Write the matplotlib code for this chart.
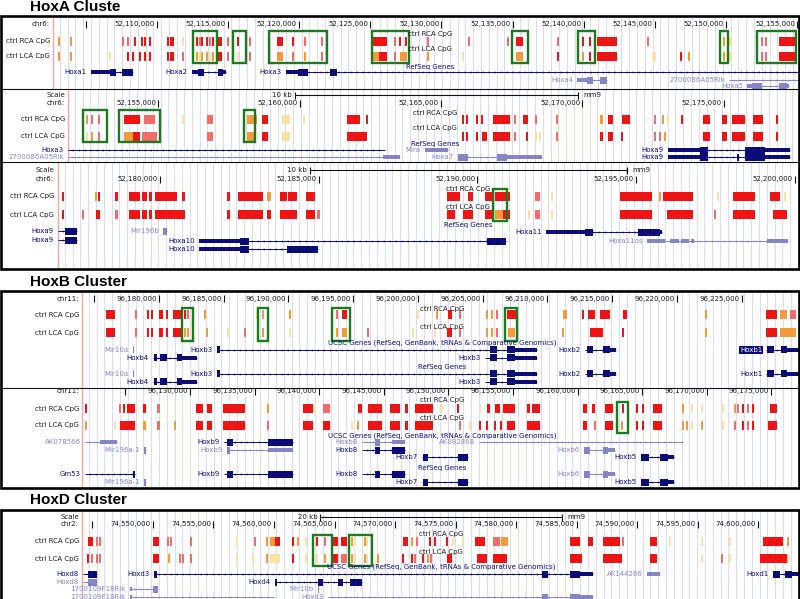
import matplotlib
matplotlib.use('Agg')
import matplotlib.pyplot as plt
from matplotlib.patches import Rectangle
import numpy as np

# ======================= DATA (genomic positions in kb) =======================
# ---- HoxA, row 1 (chr6) ----
A1_XLIM = (52102.63, 52155.20)
A1_TICKS = [52105, 52110, 52115, 52120, 52125, 52130, 52135, 52140, 52145, 52150, 52155]
A1_TICK_LABELS = ['', '52,110,000', '52,115,000', '52,120,000', '52,125,000', '52,130,000',
                  '52,135,000', '52,140,000', '52,145,000', '52,150,000', '52,155,000']
A1_RCA = [(52103.12, 'o'), (52103.96, 'o'), (52107.61, 'r'), (52107.96, 'r'), (52108.46, 'R'),
          (52108.95, 'R'), (52109.16, 'R'), (52109.51, 'R'), (52110.77, 'R'), (52110.98, 'R'),
          (52111.12, 'R'), (52111.83, 'y'), (52112.81, 'R'), (52113.02, 'r'), (52113.16, 'R'),
          (52113.51, 'R'), (52113.72, 'r'), (52113.93, 'R'), (52114.21, 52114.56, 'R'),
          (52114.99, 'r'), (52115.69, 'R'), (52116.53, 'r'), (52118.43, 52118.85, 'R'),
          (52119.55, 'R'), (52120.39, 'r'), (52121.59, 'r'), (52125.17, 52126.15, 'R'),
          (52126.71, 'r'), (52127.06, 'R'), (52127.49, 'R'), (52129.03, 'r'), (52131.91, 'r'),
          (52134.65, 'r'), (52135.21, 52135.70, 'R'), (52138.16, 'r'), (52139.92, 'R'),
          (52140.41, 'R'), (52140.90, 52142.37, 'R'), (52144.55, 'r'), (52149.89, 'o'),
          (52150.10, 52150.45, 'y'), (52152.56, 'r'), (52152.84, 'r'), (52153.75, 52154.94, 'R')]
A1_LCA = [(52103.12, 'o'), (52103.96, 'o'), (52106.70, 'y'), (52107.96, 'R'), (52108.31, 'R'),
          (52108.81, 'R'), (52109.16, 'R'), (52109.51, 'R'), (52110.77, 'R'), (52110.98, 'R'),
          (52111.12, 'R'), (52111.83, 'r'), (52112.81, 'o'), (52113.02, 'y'), (52113.16, 'o'),
          (52113.51, 'o'), (52113.72, 'y'), (52113.93, 'o'), (52114.21, 52114.56, 'R'),
          (52114.99, 'r'), (52115.69, 'y'), (52116.53, 'r'), (52118.43, 52118.85, 'o'),
          (52119.55, 'r'), (52120.39, 'o'), (52121.59, 'r'), (52125.17, 52125.60, 'o'),
          (52125.60, 52126.15, 'R'), (52126.71, 'r'), (52127.06, 52127.56, 'o'), (52129.03, 'o'),
          (52131.49, 'y'), (52135.21, 52135.70, 'o'), (52138.16, 'R'), (52139.92, 'o'),
          (52140.41, 'R'), (52140.90, 52142.37, 'R'), (52144.83, 52145.11, 'y'), (52146.87, 'R'),
          (52147.43, 'o'), (52149.89, 'o'), (52150.10, 52150.45, 'y'), (52152.56, 'r'),
          (52152.84, 'r'), (52153.75, 52154.94, 'R')]
A1_BOXES = [(52112.53, 52114.21), (52115.34, 52116.25), (52117.87, 52121.94), (52125.10, 52127.70),
            (52134.93, 52136.05), (52139.63, 52140.76), (52149.61, 52150.17), (52152.21, 52154.94)]
A1_GENES = [
    ('Hoxa1', 72, 52105.37, 52108.31, 'd', [(52105.37, 52106.70, 'h'), (52106.70, 52107.12, 'f'), (52107.54, 52108.31, 'f')]),
    ('Hoxa2', 72, 52112.46, 52114.85, 'd', [(52112.46, 52112.88, 'h'), (52112.88, 52113.30, 'f'), (52114.28, 52114.63, 'f'), (52114.63, 52114.85, 'h')]),
    ('Hoxa3', 72, 52119.06, 52155.20, 'd', [(52119.06, 52119.90, 'h'), (52119.90, 52120.60, 'f'), (52122.15, 52122.64, 'f')]),
    ('Hoxa4', 80, 52139.56, 52141.67, 'l', [(52139.56, 52140.20, 'h'), (52140.20, 52140.62, 'f'), (52141.11, 52141.67, 'f')]),
    ('2700086A05Rik', 80, 52150.24, 52155.20, 'l', []),
    ('Hoxa5', 86, 52151.50, 52154.45, 'l', [(52151.50, 52151.85, 'h'), (52151.85, 52152.56, 'f'), (52153.75, 52154.31, 'f'), (52154.31, 52154.45, 'h')]),
]

# ---- HoxA, row 2 ----
A2_XLIM = (52151.78, 52177.69)
A2_TICKS = [52155, 52160, 52165, 52170, 52175]
A2_TICK_LABELS = ['52,155,000', '52,160,000', '52,165,000', '52,170,000', '52,175,000']
A2_SCALE = (52159.84, 10)
A2_RCA = [(52152.49, 'o'), (52152.66, 'r'), (52152.92, 'r'), (52153.80, 52154.36, 'R'),
          (52154.50, 52154.89, 'r'), (52155.88, 'y'), (52156.73, 52156.94, 'r'),
          (52158.14, 52158.50, 'o'), (52158.67, 52158.89, 'R'), (52159.38, 52159.66, 'y'),
          (52160.16, 'y'), (52161.68, 52162.14, 'R'), (52162.38, 'R'), (52165.78, 'R'),
          (52165.92, 'R'), (52166.27, 'R'), (52166.45, 'R'), (52166.84, 52167.44, 'R'),
          (52167.61, 'r'), (52167.90, 52168.07, 'R'), (52168.36, 'r'), (52169.10, 'r'),
          (52170.62, 52170.72, 'o'), (52170.90, 52171.08, 'R'), (52171.40, 52171.68, 'R'),
          (52172.56, 'r'), (52172.84, 'o'), (52173.02, 'y'), (52173.52, 'R'),
          (52174.26, 52174.51, 'R'), (52174.93, 52175.11, 'R'), (52175.28, 52175.74, 'R'),
          (52176.02, 52176.38, 'R'), (52176.87, 'R')]
A2_LCA = [(52152.49, 'y'), (52152.66, 'o'), (52152.92, 'r'), (52153.80, 52154.10, 'o'),
          (52154.10, 52154.36, 'R'), (52154.43, 52154.95, 'r'), (52156.73, 52156.94, 'r'),
          (52158.14, 52158.40, 'o'), (52158.67, 52158.89, 'R'), (52159.38, 52159.66, 'y'),
          (52161.68, 52162.38, 'R'), (52165.78, 'R'), (52165.92, 'R'), (52166.27, 'R'),
          (52166.45, 52166.62, 'R'), (52166.84, 52167.44, 'R'), (52167.61, 'r'), (52168.04, 'R'),
          (52168.36, 'y'), (52168.50, 'y'), (52169.10, 'r'), (52170.62, 52170.72, 'R'),
          (52170.90, 52171.08, 'R'), (52171.40, 'R'), (52172.56, 'r'), (52172.74, 'r'),
          (52172.92, 'o'), (52174.26, 52174.51, 'R'), (52174.93, 52175.11, 'R'),
          (52175.28, 52175.74, 'R'), (52176.02, 52176.38, 'R'), (52176.87, 'R')]
A2_BOXES = [(52152.35, 52153.20), (52153.62, 52155.07), (52158.04, 52158.43)]
A2_GENES = [
    ('Hoxa3', 150, 52151.82, 52163.02, 'd', []),
    ('2700086A05Rik', 157, 52151.82, 52163.55, 'l', [(52162.95, 52163.55, 'h')]),
    ('Mira', 150, 52164.43, 52165.25, 'l', [(52164.43, 52165.25, 'h')]),
    ('Hoxa7', 157, 52165.60, 52168.57, 'l', [(52165.60, 52165.95, 'f'), (52166.98, 52167.33, 'f'), (52167.33, 52168.57, 'h')]),
    ('Hoxa9', 150, 52173.02, 52177.33, 'd', [(52173.02, 52174.15, 'h'), (52174.15, 52174.43, 'f'), (52175.74, 52176.45, 'f'), (52176.45, 52177.33, 'h')]),
    ('Hoxa9', 157, 52173.02, 52177.33, 'd', [(52173.02, 52174.15, 'h'), (52174.15, 52174.43, 'f'), (52175.45, 52175.52, 'f'), (52175.74, 52176.45, 'f'), (52176.45, 52177.33, 'h')]),
]

# ---- HoxA, row 3 ----
A3_XLIM = (52176.76, 52200.16)
A3_TICKS = [52180, 52185, 52190, 52195, 52200]
A3_TICK_LABELS = ['52,180,000', '52,185,000', '52,190,000', '52,195,000', '52,200,000']
A3_SCALE = (52184.72, 10)
A3_RCA = [(52176.91, 52176.98, 'R'), (52177.98, 'o'), (52178.08, 'R'), (52178.58, 52178.68, 'R'),
          (52179.02, 52179.37, 'R'), (52179.43, 52179.59, 'R'), (52179.65, 52179.75, 'R'),
          (52179.84, 52180.54, 'R'), (52180.69, 52180.79, 'R'), (52182.11, 52182.20, 'R'),
          (52182.46, 52183.24, 'R'), (52183.37, 52183.50, 'o'), (52183.78, 52184.00, 'R'),
          (52184.03, 52184.31, 'R'), (52184.60, 52184.88, 'R'), (52189.04, 52189.45, 'R'),
          (52189.70, 52189.86, 'R'), (52190.24, 52190.49, 'R'), (52190.55, 52191.02, 'R'),
          (52191.81, 52191.97, 'r'), (52192.35, 'y'), (52194.49, 52195.50, 'R'), (52195.75, 'o'),
          (52195.85, 52196.79, 'R'), (52197.57, 'y'), (52198.05, 52198.74, 'R'),
          (52199.21, 52199.53, 'R'), (52199.69, 'y')]
A3_LCA = [(52176.91, 52176.98, 'R'), (52177.54, 52177.61, 'r'), (52177.98, 52178.11, 'R'),
          (52178.58, 52178.68, 'r'), (52179.02, 52179.37, 'R'), (52179.43, 52179.59, 'R'),
          (52179.65, 52179.75, 'R'), (52179.84, 52180.79, 'R'), (52182.11, 52182.20, 'R'),
          (52182.46, 52183.24, 'R'), (52183.37, 52183.50, 'R'), (52183.78, 52184.31, 'R'),
          (52184.60, 52184.88, 'R'), (52184.95, 52185.04, 'r'), (52189.04, 52189.30, 'R'),
          (52189.55, 52189.86, 'R'), (52190.24, 52190.49, 'R'), (52190.55, 52190.80, 'o'),
          (52190.80, 52191.02, 'R'), (52191.62, 'y'), (52191.81, 52191.97, 'r'), (52192.35, 'y'),
          (52194.49, 52195.50, 'R'), (52195.97, 52196.79, 'R'), (52197.48, 'r'),
          (52198.05, 52198.74, 'R'), (52199.31, 52199.75, 'R')]
A3_BOXES = [(52190.49, 52190.93)]
A3_GENES = [
    ('Hoxa9', 231, 52176.79, 52177.39, 'd', [(52177.01, 52177.39, 'f')]),
    ('Hoxa9', 240, 52176.79, 52177.39, 'd', [(52177.01, 52177.39, 'f')]),
    ('Mir196b', 231, 52180.10, 52180.22, 'l', [(52180.10, 52180.22, 'f')]),
    ('Hoxa10', 241, 52181.23, 52190.90, 'd', [(52181.23, 52182.52, 'h'), (52182.52, 52182.80, 'f'), (52190.30, 52190.90, 'f')]),
    ('Hoxa10', 249, 52181.23, 52184.98, 'd', [(52181.23, 52182.52, 'h'), (52182.52, 52182.80, 'f'), (52184.00, 52184.98, 'f')]),
    ('Hoxa11', 232, 52192.16, 52195.81, 'd', [(52192.16, 52193.39, 'h'), (52193.39, 52193.64, 'f'), (52195.06, 52195.75, 'f'), (52195.75, 52195.81, 'h')]),
    ('Hoxa11os', 241, 52195.34, 52199.78, 'l', [(52195.34, 52195.91, 'h'), (52196.06, 52196.35, 'h'), (52196.41, 52196.66, 'h'), (52196.73, 52196.82, 'h'), (52199.12, 52199.78, 'h')]),
]

# ---- HoxB, row 1 (chr11) ----
B1_XLIM = (96174.00, 96229.50)
B1_TICKS = [96175, 96180, 96185, 96190, 96195, 96200, 96205, 96210, 96215, 96220, 96225]
B1_TICK_LABELS = ['', '96,180,000', '96,185,000', '96,190,000', '96,195,000', '96,200,000',
                  '96,205,000', '96,210,000', '96,215,000', '96,220,000', '96,225,000']
B1_RCA = [(96175.91, 96176.60, 'R'), (96178.23, 'r'), (96179.15, 'R'), (96179.46, 'R'),
          (96180.00, 96180.31, 'R'), (96180.62, 'R'), (96181.08, 96181.77, 'R'), (96182.01, 'R'),
          (96182.24, 'r'), (96183.55, 'o'), (96187.56, 'y'), (96188.02, 'o'), (96190.11, 'o'),
          (96193.73, 'r'), (96194.12, 96194.51, 'R'), (96199.98, 'y'), (96201.45, 'o'),
          (96202.30, 96202.61, 'R'), (96203.23, 'r'), (96205.31, 'o'), (96205.70, 'o'),
          (96206.08, 'r'), (96206.85, 96207.62, 'R'), (96211.17, 96211.48, 'o'), (96212.72, 'R'),
          (96213.10, 96213.64, 'R'), (96214.03, 96214.80, 'R'), (96215.80, 96216.11, 'R'),
          (96222.28, 'o'), (96226.91, 96227.69, 'R'), (96227.92, 96228.46, 'o'),
          (96228.69, 96229.20, 'r')]
B1_LCA = [(96175.91, 96176.60, 'R'), (96178.23, 'r'), (96179.15, 'R'), (96179.46, 'R'),
          (96180.00, 96180.31, 'R'), (96180.62, 'R'), (96181.08, 96181.77, 'R'), (96182.01, 'o'),
          (96182.24, 'o'), (96183.70, 'o'), (96185.32, 'y'), (96186.64, 'r'), (96188.02, 'o'),
          (96190.11, 'y'), (96193.73, 'o'), (96194.12, 96194.51, 'o'), (96196.13, 'r'),
          (96199.60, 'y'), (96201.30, 'y'), (96202.22, 96202.61, 'R'), (96203.23, 'r'),
          (96205.31, 'o'), (96205.70, 'o'), (96206.08, 'r'), (96206.93, 96207.47, 'o'),
          (96211.17, 'o'), (96213.26, 96214.26, 'R'), (96215.80, 'R'), (96222.28, 'o'),
          (96226.91, 96227.69, 'R'), (96227.92, 96229.20, 'o')]
B1_BOXES = [(96181.77, 96182.62), (96187.64, 96188.41), (96193.35, 96194.74), (96206.70, 96207.62)]
B1_GENES = [
    ('Mir10a', 350, 96178.00, 96178.10, 'l', [(96178.00, 96178.10, 'f')]),
    ('Hoxb3', 350, 96184.48, 96209.17, 'd', [(96184.48, 96184.70, 'f'), (96205.54, 96206.08, 'f'), (96206.85, 96207.47, 'f'), (96207.47, 96209.17, 'h')]),
    ('Hoxb2', 350, 96212.87, 96215.26, 'd', [(96213.02, 96213.49, 'f'), (96214.26, 96214.80, 'f'), (96214.80, 96215.26, 'h')]),
    ('Hoxb1*', 350, 96226.91, 96229.50, 'd', [(96226.99, 96227.53, 'f'), (96228.06, 96228.46, 'f'), (96228.46, 96229.50, 'h')]),
    ('Hoxb4', 358, 96179.54, 96182.93, 'd', [(96179.61, 96179.85, 'f'), (96180.08, 96180.62, 'f'), (96181.39, 96181.77, 'f'), (96181.77, 96182.93, 'h')]),
    ('Hoxb3', 358, 96205.15, 96209.17, 'd', [(96205.54, 96206.08, 'f'), (96206.85, 96207.47, 'f'), (96207.47, 96209.17, 'h')]),
    ('Mir10a', 374, 96178.00, 96178.10, 'l', [(96178.00, 96178.10, 'f')]),
    ('Hoxb3', 374, 96184.48, 96209.17, 'd', [(96184.48, 96184.70, 'f'), (96205.54, 96206.08, 'f'), (96206.85, 96207.47, 'f'), (96207.47, 96209.17, 'h')]),
    ('Hoxb2', 374, 96212.87, 96215.26, 'd', [(96213.02, 96213.49, 'f'), (96214.26, 96214.80, 'f'), (96214.80, 96215.26, 'h')]),
    ('Hoxb1', 374, 96226.91, 96229.50, 'd', [(96226.99, 96227.53, 'f'), (96228.06, 96228.46, 'f'), (96228.46, 96229.50, 'h')]),
    ('Hoxb4', 382, 96179.54, 96182.93, 'd', [(96179.61, 96179.85, 'f'), (96180.08, 96180.62, 'f'), (96181.39, 96181.77, 'f'), (96181.77, 96182.93, 'h')]),
    ('Hoxb3', 382, 96205.15, 96209.17, 'd', [(96205.54, 96206.08, 'f'), (96206.85, 96207.47, 'f'), (96207.47, 96209.17, 'h')]),
]

# ---- HoxB, row 2 ----
B2_XLIM = (96121.56, 96177.21)
B2_TICKS = [96125, 96130, 96135, 96140, 96145, 96150, 96155, 96160, 96165, 96170, 96175]
B2_TICK_LABELS = ['', '96,130,000', '96,135,000', '96,140,000', '96,145,000', '96,150,000',
                  '96,155,000', '96,160,000', '96,165,000', '96,170,000', '96,175,000']
B2_RCA = [(96121.87, 96122.03, 'R'), (96124.58, 'r'), (96124.85, 'R'), (96125.12, 96125.74, 'R'),
          (96126.36, 96126.59, 'R'), (96127.45, 96127.68, 'r'), (96130.46, 96131.01, 'R'),
          (96131.32, 96131.70, 'R'), (96132.55, 96134.26, 'R'), (96136.04, 'o'),
          (96138.75, 96139.52, 'R'), (96139.67, 'y'), (96140.29, 96140.84, 'r'),
          (96143.00, 96143.31, 'R'), (96143.78, 96144.86, 'R'), (96145.48, 96146.25, 'R'),
          (96146.64, 96146.87, 'R'), (96147.41, 96148.81, 'R'), (96149.50, 'y'), (96150.74, 'R'),
          (96152.45, 'y'), (96152.99, 96153.22, 'R'), (96153.61, 96153.99, 'R'),
          (96154.23, 96155.15, 'R'), (96156.08, 96156.32, 'R'), (96156.47, 96157.09, 'R'),
          (96160.42, 96160.73, 'R'), (96161.11, 96161.35, 'R'), (96162.12, 96162.74, 'R'),
          (96163.51, 'R'), (96164.60, 'R'), (96165.06, 'R'), (96165.84, 96166.53, 'R'),
          (96168.16, 'o'), (96168.85, 'y'), (96169.63, 'y'), (96171.25, 'y'), (96172.18, 'o'),
          (96172.41, 'r'), (96172.80, 'R'), (96173.20, 'r'), (96173.58, 'R'),
          (96174.89, 96175.43, 'R')]
B2_LCA = [(96121.87, 96122.03, 'o'), (96124.20, 'y'), (96124.58, 96125.74, 'R'),
          (96126.36, 96126.59, 'o'), (96127.45, 96127.68, 'r'), (96128.84, 'o'),
          (96130.46, 96131.01, 'R'), (96131.32, 96131.70, 'R'), (96132.55, 96134.26, 'R'),
          (96136.04, 'r'), (96138.75, 96139.52, 'R'), (96140.29, 96140.84, 'R'), (96142.54, 'y'),
          (96143.00, 'o'), (96143.78, 96144.86, 'R'), (96145.48, 96146.25, 'R'),
          (96146.64, 96146.87, 'R'), (96147.41, 96148.81, 'R'), (96150.90, 'r'), (96151.67, 'y'),
          (96152.45, 'R'), (96153.00, 'R'), (96153.61, 'R'), (96154.10, 'R'),
          (96154.50, 96155.15, 'R'), (96156.08, 96157.09, 'R'), (96160.42, 96160.73, 'R'),
          (96161.35, 'r'), (96162.12, 96162.74, 'R'), (96163.44, 'o'), (96164.60, 'R'),
          (96165.06, 'R'), (96165.84, 96166.53, 'R'), (96168.16, 'o'), (96168.45, 'o'),
          (96168.85, 'y'), (96169.63, 'o'), (96171.25, 'y'), (96172.18, 'r'), (96172.80, 'R'),
          (96173.20, 'r'), (96173.58, 'R'), (96174.70, 96175.43, 'R')]
B2_BOXES = [(96163.05, 96163.90)]
B2_GENES = [
    ('AK078566', 442, 96121.87, 96124.35, 'l', [(96123.03, 96124.35, 'h')]),
    ('Mir196a-1', 450, 96126.45, 96126.60, 'l', [(96126.45, 96126.60, 'f')]),
    ('Hoxb9', 442, 96132.63, 96137.97, 'd', [(96132.86, 96133.33, 'f'), (96136.04, 96137.97, 'f')]),
    ('Hoxb9', 450, 96132.86, 96137.97, 'l', [(96132.86, 96133.10, 'f'), (96136.04, 96137.97, 'h')]),
    ('Hoxb8', 442, 96143.31, 96146.64, 'l', [(96144.32, 96144.71, 'f'), (96145.63, 96146.64, 'h')]),
    ('Hoxb8', 450, 96143.31, 96146.64, 'd', [(96144.32, 96144.71, 'f'), (96145.63, 96146.64, 'f')]),
    ('AK082868', 442, 96152.37, 96168.16, 'l', []),
    ('Hoxb7', 457, 96147.96, 96151.52, 'd', [(96148.03, 96148.42, 'f'), (96150.74, 96151.52, 'f')]),
    ('Hoxb6', 450, 96160.50, 96162.89, 'l', [(96160.50, 96160.96, 'f'), (96161.97, 96162.35, 'f'), (96162.35, 96162.89, 'h')]),
    ('Hoxb5', 457, 96164.91, 96167.46, 'd', [(96164.91, 96165.53, 'f'), (96166.38, 96167.00, 'f'), (96167.00, 96167.46, 'h')]),
    ('Gm53', 474, 96121.87, 96125.74, 'd', [(96125.55, 96125.74, 'f')]),
    ('Mir196a-1', 482, 96126.45, 96126.60, 'l', [(96126.45, 96126.60, 'f')]),
    ('Hoxb9', 474, 96132.63, 96137.97, 'd', [(96132.86, 96133.33, 'f'), (96136.04, 96137.97, 'f')]),
    ('Hoxb8', 474, 96143.31, 96146.64, 'd', [(96144.32, 96144.71, 'f'), (96145.63, 96146.64, 'f')]),
    ('Hoxb7', 482, 96147.96, 96151.52, 'd', [(96148.03, 96148.42, 'f'), (96150.74, 96151.52, 'f')]),
    ('Hoxb6', 474, 96160.50, 96162.89, 'l', [(96160.50, 96160.96, 'f'), (96161.97, 96162.35, 'f'), (96162.35, 96162.89, 'h')]),
    ('Hoxb5', 482, 96164.91, 96167.46, 'd', [(96164.91, 96165.53, 'f'), (96166.38, 96167.00, 'f'), (96167.00, 96167.46, 'h')]),
]

# ---- HoxD (chr2) ----
D_XLIM = (74544.05, 74603.47)
D_TICKS = [74545, 74550, 74555, 74560, 74565, 74570, 74575, 74580, 74585, 74590, 74595, 74600]
D_TICK_LABELS = ['', '74,550,000', '74,555,000', '74,560,000', '74,565,000', '74,570,000',
                 '74,575,000', '74,580,000', '74,585,000', '74,590,000', '74,595,000', '74,600,000']
D_SCALE = (74563.80, 20)
D_RCA = [(74544.63, 74545.04, 'R'), (74545.37, 'r'), (74545.62, 'r'), (74550.00, 74550.50, 'R'),
         (74551.24, 'r'), (74551.49, 'r'), (74553.14, 'r'), (74556.94, 'y'), (74558.43, 'r'),
         (74559.42, 'o'), (74559.67, 74560.10, 'o'), (74560.10, 74560.50, 'R'), (74561.57, 'R'),
         (74561.98, 'o'), (74562.64, 'y'), (74563.55, 'R'), (74564.21, 'r'),
         (74564.79, 74565.29, 'R'), (74565.54, 74566.03, 'R'), (74566.45, 'o'), (74566.69, 'y'),
         (74567.52, 'o'), (74567.69, 'y'), (74570.66, 74571.07, 'R'), (74571.40, 'o'),
         (74571.82, 'r'), (74572.89, 'R'), (74573.31, 'R'), (74574.30, 'R'), (74574.79, 'y'),
         (74575.62, 'y'), (74576.61, 74577.44, 'R'), (74578.10, 74578.70, 'r'),
         (74578.80, 74579.34, 'o'), (74584.46, 74585.29, 'R'), (74585.95, 74586.36, 'R'),
         (74587.19, 74588.60, 'R'), (74588.84, 'r'), (74591.07, 74591.65, 'R'), (74592.73, 'y'),
         (74595.37, 'y'), (74597.69, 'y'), (74600.41, 74602.07, 'R'), (74602.48, 'o')]
D_LCA = [(74544.63, 'R'), (74544.95, 'r'), (74545.37, 'r'), (74545.62, 'r'), (74550.00, 74550.50, 'R'),
         (74551.32, 'o'), (74552.23, 'r'), (74552.50, 'r'), (74553.14, 'r'), (74556.94, 'y'),
         (74558.26, 'y'), (74559.42, 'o'), (74559.67, 74560.50, 'y'), (74561.57, 'R'),
         (74562.64, 'y'), (74563.55, 'y'), (74564.21, 'o'), (74564.79, 74565.29, 'R'),
         (74565.54, 74566.03, 'r'), (74566.45, 'o'), (74566.69, 'y'), (74567.52, 'o'),
         (74567.69, 'y'), (74568.60, 'o'), (74570.66, 'R'), (74571.40, 'R'), (74571.65, 'r'),
         (74572.31, 'R'), (74572.70, 'o'), (74573.00, 'r'), (74574.30, 74574.70, 'R'),
         (74576.78, 74577.60, 'R'), (74578.10, 74579.26, 'R'), (74584.46, 74585.45, 'R'),
         (74587.19, 74588.76, 'R'), (74591.07, 74591.65, 'R'), (74595.37, 'y'), (74597.02, 'r'),
         (74597.69, 'y'), (74600.17, 74602.40, 'R'), (74602.48, 'y')]
D_BOXES = [(74563.22, 74564.79), (74566.20, 74568.10)]
D_GENES = [
    ('Hoxd8', 574, 74544.21, 74545.37, 'd', [(74544.63, 74545.37, 'f')]),
    ('Hoxd8', 582, 74544.21, 74545.37, 'l', [(74544.63, 74545.37, 'f')]),
    ('1700109F18Rik', 589, 74548.10, 74550.41, 'l', [(74548.10, 74548.30, 'h'), (74550.00, 74550.41, 'f')]),
    ('1700109F18Rik', 597, 74548.10, 74560.00, 'l', [(74548.10, 74548.30, 'h')]),
    ('Hoxd3', 574, 74550.08, 74586.36, 'd', [(74550.08, 74550.33, 'f'), (74582.15, 74582.64, 'f'), (74584.46, 74585.29, 'f'), (74585.29, 74586.36, 'h')]),
    ('Hoxd4', 582, 74560.08, 74567.27, 'd', [(74560.08, 74560.25, 'f'), (74563.64, 74564.05, 'f'), (74565.29, 74565.70, 'f'), (74566.28, 74567.27, 'f')]),
    ('Mir10b', 589, 74563.60, 74563.75, 'l', [(74563.60, 74563.75, 'f')]),
    ('Hoxd3', 597, 74564.46, 74586.36, 'l', [(74582.15, 74582.64, 'f'), (74584.46, 74585.29, 'f'), (74585.29, 74586.36, 'h')]),
    ('AK144266', 574, 74590.83, 74591.90, 'l', [(74590.83, 74591.90, 'h')]),
    ('Hoxd1', 574, 74601.24, 74603.50, 'd', [(74601.24, 74601.82, 'f'), (74602.23, 74602.81, 'f'), (74602.81, 74603.50, 'h')]),
]

PANEL_TITLES = ['HoxA Cluste', 'HoxB Cluster', 'HoxD Cluster']
UCSC_LABEL = 'UCSC Genes (RefSeq, GenBank, tRNAs & Comparative Genomics)'

# ======================= STYLE / LAYOUT (pixels) =======================
W, H = 800, 599
FONT = 'DejaVu Sans'
FS = 5.0
MARK_H = 9
MARK_COL = {'R': '#ee1414', 'r': '#f36b6b', 'o': '#f39a3a', 'y': '#f8e3a2'}
DARK, LIGHT = '#0c0c78', '#8585c4'
GREEN = '#1b7a1b'
GUIDE = '#dcdcf0'
PINK = '#f2a7a7'

ROWS = [
    dict(left=52, top=17, bottom=89, xlim=A1_XLIM, chrom='chr6:', ticks=A1_TICKS, tlabels=A1_TICK_LABELS,
         ruler=24, rca=41, lca=56, labx=50, scale=None, scale_y=None, rca_lab=34, lca_lab=49,
         cx=430, center=[('RefSeq Genes', 67)], boxy=(31, 63),
         RCA=A1_RCA, LCA=A1_LCA, boxes=A1_BOXES, genes=A1_GENES, sep=True),
    dict(left=67, top=89, bottom=162, xlim=A2_XLIM, chrom='chr6:', ticks=A2_TICKS, tlabels=A2_TICK_LABELS,
         ruler=103, rca=119.5, lca=136, labx=65, scale=A2_SCALE, scale_y=95, rca_lab=113, lca_lab=128,
         cx=435, center=[('RefSeq Genes', 144)], boxy=(110, 142),
         RCA=A2_RCA, LCA=A2_LCA, boxes=A2_BOXES, genes=A2_GENES, sep=True),
    dict(left=57, top=162, bottom=268, xlim=A3_XLIM, chrom='chr6:', ticks=A3_TICKS, tlabels=A3_TICK_LABELS,
         ruler=179, rca=196, lca=214.5, labx=54, scale=A3_SCALE, scale_y=170, rca_lab=189, lca_lab=207,
         cx=468, center=[('RefSeq Genes', 225)], boxy=(189, 221),
         RCA=A3_RCA, LCA=A3_LCA, boxes=A3_BOXES, genes=A3_GENES, sep=False),
    dict(left=81, top=292, bottom=388, xlim=B1_XLIM, chrom='chr11:', ticks=B1_TICKS, tlabels=B1_TICK_LABELS,
         ruler=299, rca=315, lca=333, labx=79, scale=None, scale_y=None, rca_lab=309, lca_lab=327,
         cx=442, center=[(UCSC_LABEL, 343), ('RefSeq Genes', 367)], boxy=(308, 341),
         RCA=B1_RCA, LCA=B1_LCA, boxes=B1_BOXES, genes=B1_GENES, sep=True),
    dict(left=81, top=388, bottom=487, xlim=B2_XLIM, chrom='chr11:', ticks=B2_TICKS, tlabels=B2_TICK_LABELS,
         ruler=391, rca=408.5, lca=425.5, labx=79, scale=None, scale_y=None, rca_lab=400, lca_lab=418,
         cx=442, center=[(UCSC_LABEL, 436), ('RefSeq Genes', 468)], boxy=(402, 433),
         RCA=B2_RCA, LCA=B2_LCA, boxes=B2_BOXES, genes=B2_GENES, sep=False),
    dict(left=81, top=511, bottom=599, xlim=D_XLIM, chrom='chr2:', ticks=D_TICKS, tlabels=D_TICK_LABELS,
         ruler=524, rca=541.5, lca=558.5, labx=79, scale=D_SCALE, scale_y=517, rca_lab=534, lca_lab=552,
         cx=441, center=[(UCSC_LABEL, 567)], boxy=(535, 566),
         RCA=D_RCA, LCA=D_LCA, boxes=D_BOXES, genes=D_GENES, sep=False),
]
FRAMES = [(16, 269), (291, 488), (509.5, 640)]
TITLE_Y = [7, 282, 500]

fig = plt.figure(figsize=(W / 100, H / 100), dpi=100)
fig.patch.set_facecolor('white')


def ftext(x, y, s, ha='right', color='#1a1a1a', size=FS, **kw):
    fig.text(x / W, 1 - y / H, s, ha=ha, va='center', fontsize=size, color=color,
             family=FONT, **kw)


def draw_marks(ax, marks, yc, mw):
    for m in marks:
        if len(m) == 2:
            s, c = m
            x0, w = s - mw / 2, mw
        else:
            s, e, c = m
            x0, w = s, max(e - s, mw)
        ax.add_patch(Rectangle((x0, yc - MARK_H / 2), w, MARK_H, facecolor=MARK_COL[c],
                               edgecolor='none', lw=0))


def draw_gene(ax, g, ppk):
    name, y, s, e, ck, exons = g
    col = DARK if ck == 'd' else LIGHT
    ax.plot([s, e], [y, y], color=col, lw=0.7, solid_capstyle='butt', clip_on=True)
    span_px = (e - s) * ppk
    if span_px > 12:
        xs = s + np.arange(4, span_px - 2, 6) / ppk
        ax.plot(xs, np.full(len(xs), y), ls='none', marker='<', ms=1.6, mew=0,
                color=col)
    for a, b, t in exons:
        h = 7 if t == 'f' else 4
        ax.add_patch(Rectangle((a, y - h / 2), max(b - a, 1.5 / ppk), h, facecolor=col,
                               edgecolor='none', lw=0))
    hl = name.endswith('*')
    label = name.rstrip('*')
    kw = dict(xytext=(-3, 0), textcoords='offset points', ha='right', va='center',
              fontsize=FS, family=FONT, annotation_clip=False)
    if hl:
        ax.annotate(label, (s, y), color='white',
                    bbox=dict(facecolor=DARK, edgecolor='none', pad=0.6), **kw)
    else:
        ax.annotate(label, (s, y), color=col, **kw)


for row in ROWS:
    left, top, bottom = row['left'], row['top'], row['bottom']
    ax = fig.add_axes([left / W, 1 - bottom / H, (W - left) / W, (bottom - top) / H])
    x0, x1 = row['xlim']
    ax.set_xlim(x0, x1)
    ax.set_ylim(bottom, top)
    ax.axis('off')
    ppk = (W - left) / (x1 - x0)
    # guidelines
    gx = x0 + np.arange(7.8, W - left, 7.8) / ppk
    ax.vlines(gx, top, bottom, color=GUIDE, lw=0.8, zorder=0)
    ax.vlines([x0 + 0.6 / ppk], top, bottom, color=PINK, lw=1.0, zorder=0)
    # ruler
    ax.vlines(row['ticks'], row['ruler'] - 3.5, row['ruler'] + 3.5, color='#111111', lw=0.8)
    for t, lab in zip(row['ticks'], row['tlabels']):
        if lab:
            ax.annotate(lab, (t, row['ruler']), xytext=(-1.5, 0), textcoords='offset points',
                        ha='right', va='center', fontsize=FS, family=FONT, color='#1a1a1a')
    ftext(row['labx'], row['ruler'], row['chrom'])
    # scale bar
    if row['scale'] is not None:
        s0, ln = row['scale']
        sy = row['scale_y']
        ax.plot([s0, s0 + ln], [sy, sy], color='#111111', lw=0.8)
        ax.vlines([s0, s0 + ln], sy - 3.5, sy + 3.5, color='#111111', lw=0.8)
        ax.annotate('%d kb' % ln, (s0, sy), xytext=(-2, 0), textcoords='offset points',
                    ha='right', va='center', fontsize=FS, family=FONT, color='#1a1a1a')
        ax.annotate('mm9', (s0 + ln, sy), xytext=(4, 0), textcoords='offset points',
                    ha='left', va='center', fontsize=FS, family=FONT, color='#1a1a1a')
        ftext(row['labx'], sy, 'Scale')
    # tracks
    ftext(row['labx'], row['rca'], 'ctrl RCA CpG')
    ftext(row['labx'], row['lca'], 'ctrl LCA CpG')
    ftext(row['cx'], row['rca_lab'], 'ctrl RCA CpG', ha='center')
    ftext(row['cx'], row['lca_lab'], 'ctrl LCA CpG', ha='center')
    for txt, yy in row['center']:
        ftext(row['cx'], yy, txt, ha='center', color=DARK)
    mw = 2.0 / ppk
    draw_marks(ax, row['RCA'], row['rca'], mw)
    draw_marks(ax, row['LCA'], row['lca'], mw)
    for g in row['genes']:
        draw_gene(ax, g, ppk)
    b0, b1 = row['boxy']
    for s, e in row['boxes']:
        ax.add_patch(Rectangle((s, b0), e - s, b1 - b0, fill=False, edgecolor=GREEN, lw=1.7,
                               zorder=5, clip_on=False))
    if row['sep']:
        fig.add_artist(plt.Line2D([0, 1], [1 - bottom / H] * 2, color='#111111', lw=0.8,
                                  transform=fig.transFigure))

# panel frames and titles
for (ft, fb), ty, title in zip(FRAMES, TITLE_Y, PANEL_TITLES):
    fig.add_artist(Rectangle((1.2 / W, 1 - fb / H), (W - 2.4) / W, (fb - ft) / H, fill=False,
                             edgecolor='black', lw=1.9, transform=fig.transFigure))
    fig.text(30 / W, 1 - ty / H, title, ha='left', va='center', fontsize=11, fontweight='bold',
             family='Liberation Sans', color='black')

fig.savefig('out.png', dpi=100, facecolor='white')
